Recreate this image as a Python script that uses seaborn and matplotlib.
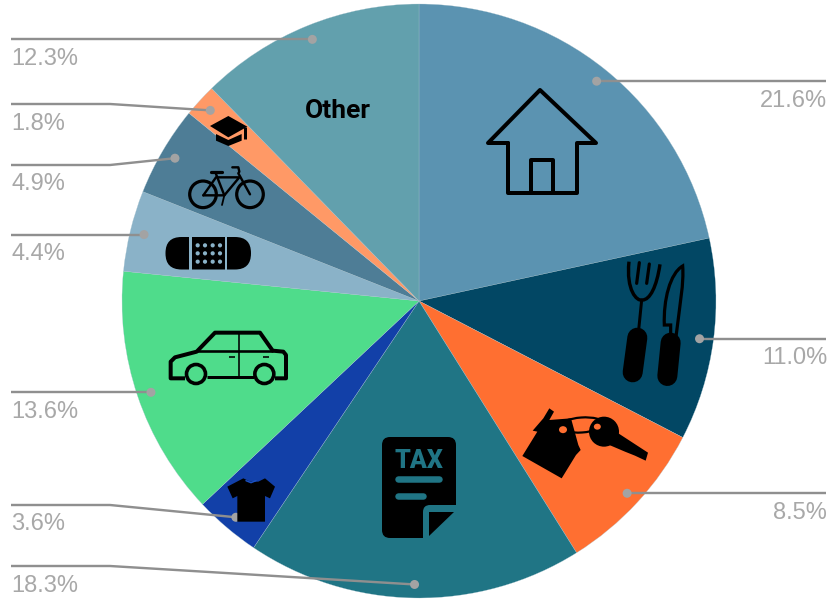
import numpy as np
import matplotlib
matplotlib.use('Agg')
import matplotlib.pyplot as plt
import seaborn as sns
from matplotlib.patches import Circle, Ellipse, FancyBboxPatch, PathPatch, Polygon
from matplotlib.path import Path

sns.set_theme(style="white")
plt.rcParams['font.family'] = ['Liberation Sans', 'DejaVu Sans']

# Share of each slice, clockwise from the top
categories = ['Housing', 'Food', 'Rent', 'Taxes', 'Clothing', 'Car',
              'Health', 'Transport', 'Education', 'Other']
shares = [21.6, 11.0, 8.5, 18.3, 3.6, 13.6, 4.4, 4.9, 1.8, 12.3]
slice_colors = ['#5B93B1', '#024764', '#FF6F31', '#207585', '#1240A8',
                '#4FDC8B', '#8AB2C8', '#4E7D96', '#FF9966', '#62A0AD']

W, H = 830, 602
CX, CY, R = 419, 301, 297

fig = plt.figure(figsize=(W / 100, H / 100), dpi=100, facecolor='white')

# The pie
ax = fig.add_axes([(CX - R) / W, (H - CY - R) / H, 2 * R / W, 2 * R / H])
ax.pie(shares, colors=sns.color_palette(slice_colors), startangle=90,
       counterclock=False, radius=1, wedgeprops=dict(linewidth=0.2, edgecolor='#A9C4CF'))
ax.set_xlim(-1, 1)
ax.set_ylim(-1, 1)

# Overlay in image pixels for leaders and icons
ov = fig.add_axes([0, 0, 1, 1])
ov.set_xlim(0, W)
ov.set_ylim(H, 0)
ov.axis('off')

PX = 72 / 100  # one pixel in points

# Leader lines and labels
elbow_ys = {4: 505, 3: 566, 7: 165, 8: 104}
mids = np.cumsum(shares) - np.array(shares) / 2
for i, (share, mid) in enumerate(zip(shares, mids)):
    a = np.radians(mid * 3.6 / sum(shares) * 100)
    dx = CX + 283 * np.sin(a)
    dy = CY - 283 * np.cos(a) + 0.5
    right = dx > CX
    end = 826 if right else 11
    y = elbow_ys.get(i) or dy
    if y == dy:
        xs, ys = [dx, end], [dy, dy]
    else:
        xs, ys = [dx, 110, end], [dy, y, y]
    ov.plot(xs, ys, color='#8F8F8F', lw=2.4 * PX, solid_capstyle='butt', zorder=3)
    ov.add_patch(Circle((dx, dy), 4.5, fc='#A3A3A3', ec='none', zorder=4))
    ov.text(end + (1 if right else 0), y + 19.5, f'{share:.1f}%', ha='right' if right else 'left',
            va='center', fontsize=17, color='#A8A8A8', zorder=5)

ov.text(337.5, 111, 'Other', ha='center', va='center', fontsize=19, fontweight='bold',
        family='Roboto', color='black', zorder=6)


def line(pts, lw=3, cap='round', join='round', color='black', zorder=6):
    pts = np.array(pts, dtype=float)
    ov.plot(pts[:, 0], pts[:, 1], color=color, lw=lw * PX, solid_capstyle=cap,
            solid_joinstyle=join, zorder=zorder)


def fill(pts, color='black', zorder=6):
    ov.add_patch(Polygon(pts, closed=True, fc=color, ec='none', zorder=zorder))


def zoomed(x0, y0):
    return lambda pts: [(x0 + px / 3, y0 + py / 3) for px, py in pts]


# House
line([(508, 143), (488, 143), (540, 90), (596, 143), (577, 143), (577, 193),
      (508, 193), (508, 143)], lw=4)
line([(531, 193), (531, 160), (553, 160), (553, 193)], lw=4)

# Fork and knife
z = zoomed(480, 70)
line(z([(472, 803), (458, 907)]), lw=20)
line(z([(485, 690), (475, 790)]), lw=3)
ov.add_patch(PathPatch(Path(z([(447, 575), (438, 660), (470, 695), (487, 690),
                               (510, 690), (530, 650), (540, 583)]),
                            [Path.MOVETO] + [Path.CURVE4] * 6),
                       fc='none', ec='black', lw=3.4 * PX, zorder=6))
line(z([(478, 578), (470, 640)]), lw=3.2)
line(z([(508, 582), (500, 640)]), lw=3.2)
line(z([(572, 818), (562, 918)]), lw=20)
ov.add_patch(PathPatch(Path(z([(588, 800), (600, 700), (612, 640), (608, 588), (570, 610),
                               (550, 690), (553, 765), (572, 765), (572, 795)]),
                            [Path.MOVETO, Path.CURVE4, Path.CURVE4, Path.CURVE4, Path.CURVE4,
                             Path.CURVE4, Path.CURVE4, Path.LINETO, Path.LINETO]),
                       fc='none', ec='black', lw=3.2 * PX, zorder=6))

# Keys with house tag
z = zoomed(510, 390)
fill(z([(37, 198), (155, 265), (198, 195), (212, 180), (205, 165), (183, 85), (118, 90),
        (132, 65), (118, 55), (100, 85), (68, 122), (82, 125)]))
ov.add_patch(Ellipse((510 + 215 / 3, 390 + 105 / 3), 44, 15, angle=-4, fc='none', ec='black',
                     lw=2.2 * PX, zorder=5.5))
ov.add_patch(Circle((510 + 282 / 3, 390 + 125 / 3), 15, fc='black', ec='none', zorder=6))
fill(z([(322, 128), (414, 188), (407, 212), (375, 197), (345, 185), (298, 165)]))
ov.add_patch(Ellipse((510 + 159 / 3, 390 + 119 / 3), 8, 7, fc='#FF6F31', ec='none', zorder=7))
ov.add_patch(Ellipse((510 + 262 / 3, 390 + 110 / 3), 7, 6, fc='#FF6F31', ec='none', zorder=7))

# Tax form
z = zoomed(150, 310)
ov.add_patch(FancyBboxPatch((390, 445), 58, 85, boxstyle='round,pad=8,rounding_size=8',
                            fc='black', ec='none', zorder=6))
ov.add_patch(FancyBboxPatch((423, 505), 50, 50, boxstyle='round,pad=0,rounding_size=7',
                            fc='#207585', ec='none', zorder=6.2))
fill(z([(838, 678), (838, 605), (912, 605)]), zorder=6.4)
ov.text(419, 460.5, 'TAX', ha='center', va='center', fontsize=18, fontweight='black',
        family='Roboto', color='#207585', zorder=7)
line(z([(745, 507), (868, 507)]), lw=6.5, color='#207585', zorder=7)
line(z([(745, 558), (820, 558)]), lw=6.5, color='#207585', zorder=7)

# T-shirt
fill(z([(232, 530), (280, 505), (300, 515), (325, 515), (345, 505), (375, 530), (360, 565),
        (345, 558), (345, 635), (262, 635), (262, 558), (248, 565)]))
line(z([(288, 512), (303, 518), (318, 512)]), lw=1.5, color='#1A50C0', zorder=7)

# Car
carpts = z([(105, 205), (62, 205), (62, 155), (75, 142), (140, 125), (195, 68), (330, 68),
            (368, 122), (400, 125), (408, 135), (408, 205), (375, 205)])
line(carpts, lw=4, join='round', cap='butt')
line(z([(170, 200), (312, 200)]), lw=3, cap='butt')
line(z([(140, 123), (368, 123)]), lw=2.6, cap='butt')
line(z([(266, 68), (266, 198)]), lw=1.6, cap='butt')
line(z([(238, 140), (255, 140)]), lw=1.6, cap='butt')
line(z([(340, 140), (358, 140)]), lw=1.6, cap='butt')
for wx in [138, 343]:
    ov.add_patch(Circle((150 + wx / 3, 310 + 192 / 3), 9.5, fc='#4FDC8B', ec='black',
                        lw=3.6 * PX, zorder=6.5))

# Bandage
z = zoomed(130, 90)
ov.add_patch(FancyBboxPatch((165.5, 237), 85.5, 32.5, boxstyle='round,pad=0,rounding_size=16',
                            fc='black', ec='none', zorder=6))
fill(z([(178, 430), (186, 430), (186, 545), (178, 545)]), color='#8AB2C8', zorder=6.5)
fill(z([(284, 430), (292, 430), (292, 545), (284, 545)]), color='#8AB2C8', zorder=6.5)
for bx in [203, 225, 248, 270]:
    for by in [466, 490, 515]:
        ov.add_patch(Circle((130 + bx / 3, 90 + by / 3), 2.1, fc='#8AB2C8', ec='none', zorder=7))

# Bicycle
for wx in [219, 360]:
    ov.add_patch(Circle((130 + wx / 3, 90 + 313 / 3), 13.3, fc='none', ec='black', lw=3.2 * PX, zorder=6))
line(z([(220, 316), (283, 316), (258, 252)]), lw=2.4)
line(z([(220, 316), (258, 262), (328, 262), (283, 316)]), lw=2.4)
line(z([(307, 232), (325, 232), (328, 245), (325, 250), (360, 313)]), lw=2.4)
line(z([(242, 247), (277, 247)]), lw=3.2)
line(z([(276, 345), (283, 316)]), lw=1.8)

# Graduation cap
fill(z([(295, 78), (352, 110), (295, 142), (240, 108)]))
fill(z([(258, 132), (295, 150), (335, 132), (335, 152), (295, 168), (258, 152)]))
line(z([(346, 112), (346, 146)]), lw=3, cap='butt')

fig.savefig('out.png', dpi=100, facecolor='white')
